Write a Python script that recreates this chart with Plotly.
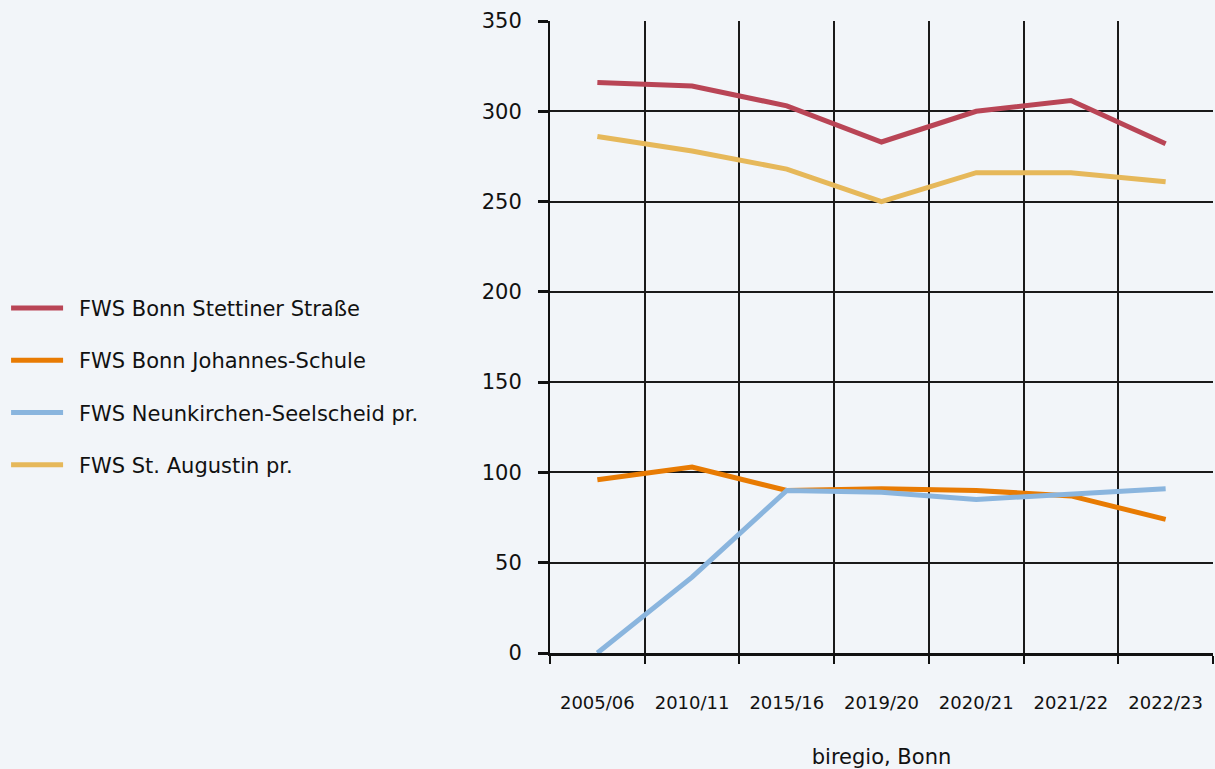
import plotly.graph_objects as go

categories = ["2005/06", "2010/11", "2015/16", "2019/20", "2020/21", "2021/22", "2022/23"]
stettiner = [316, 314, 303, 283, 300, 306, 282]
johannes = [96, 103, 90, 91, 90, 87, 74]
neunkirchen = [0, 42, 90, 89, 85, 88, 91]
augustin = [286, 278, 268, 250, 266, 266, 261]
y_ticks = [0, 50, 100, 150, 200, 250, 300, 350]

series = [
    ("FWS Bonn Stettiner Straße", stettiner, "#b94556"),
    ("FWS Bonn Johannes-Schule", johannes, "#e87b03"),
    ("FWS Neunkirchen-Seelscheid pr.", neunkirchen, "#8ab5de"),
    ("FWS St. Augustin pr.", augustin, "#e6b85a"),
]

FONT = "DejaVu Sans"
BG = "#f2f5f9"

fig = go.Figure()
for i, (name, vals, col) in enumerate(series):
    fig.add_trace(go.Scatter(
        x=categories, y=vals, name="\u00a0\u2009" + name, mode="lines",
        line=dict(color=col, width=5),
        legendgroup=f"g{i}",
    ))

fig.update_layout(
    width=1215, height=769,
    paper_bgcolor=BG, plot_bgcolor=BG,
    margin=dict(l=550, r=2, t=21, b=116, autoexpand=False),
    font=dict(family=FONT, color="#111111"),
    showlegend=True,
    legend=dict(
        xref="container", yref="container",
        x=0.005, y=0.497, xanchor="left", yanchor="middle",
        font=dict(size=21, family=FONT, color="#111111"),
        tracegroupgap=22,
        bgcolor="rgba(0,0,0,0)",
        itemwidth=52,
    ),
    xaxis=dict(
        type="category",
        tickson="boundaries",
        automargin=False,
        showgrid=True, gridcolor="#1a1a1a", gridwidth=1.5,
        showline=True, linecolor="#111111", linewidth=3,
        ticks="outside", ticklen=8, tickwidth=1.5, tickcolor="#111111",
        tickfont=dict(size=18, family=FONT),
        ticklabelstandoff=31,
        title=dict(text="biregio, Bonn", font=dict(size=21, family=FONT), standoff=43),
        range=[-0.5, 6.5],
        zeroline=False,
    ),
    yaxis=dict(
        range=[0, 350], tickvals=y_ticks,
        automargin=False,
        showgrid=True, gridcolor="#1a1a1a", gridwidth=1.5,
        showline=True, linecolor="#111111", linewidth=2,
        ticks="outside", ticklen=10, tickwidth=2.5, tickcolor="#111111",
        tickfont=dict(size=21, family=FONT),
        ticklabelstandoff=12,
        zeroline=False,
    ),
)

fig.write_html(
    "out.html",
    config={"displayModeBar": False},
    post_script="document.body.style.margin='0px';document.body.style.background='%s';" % BG,
)
